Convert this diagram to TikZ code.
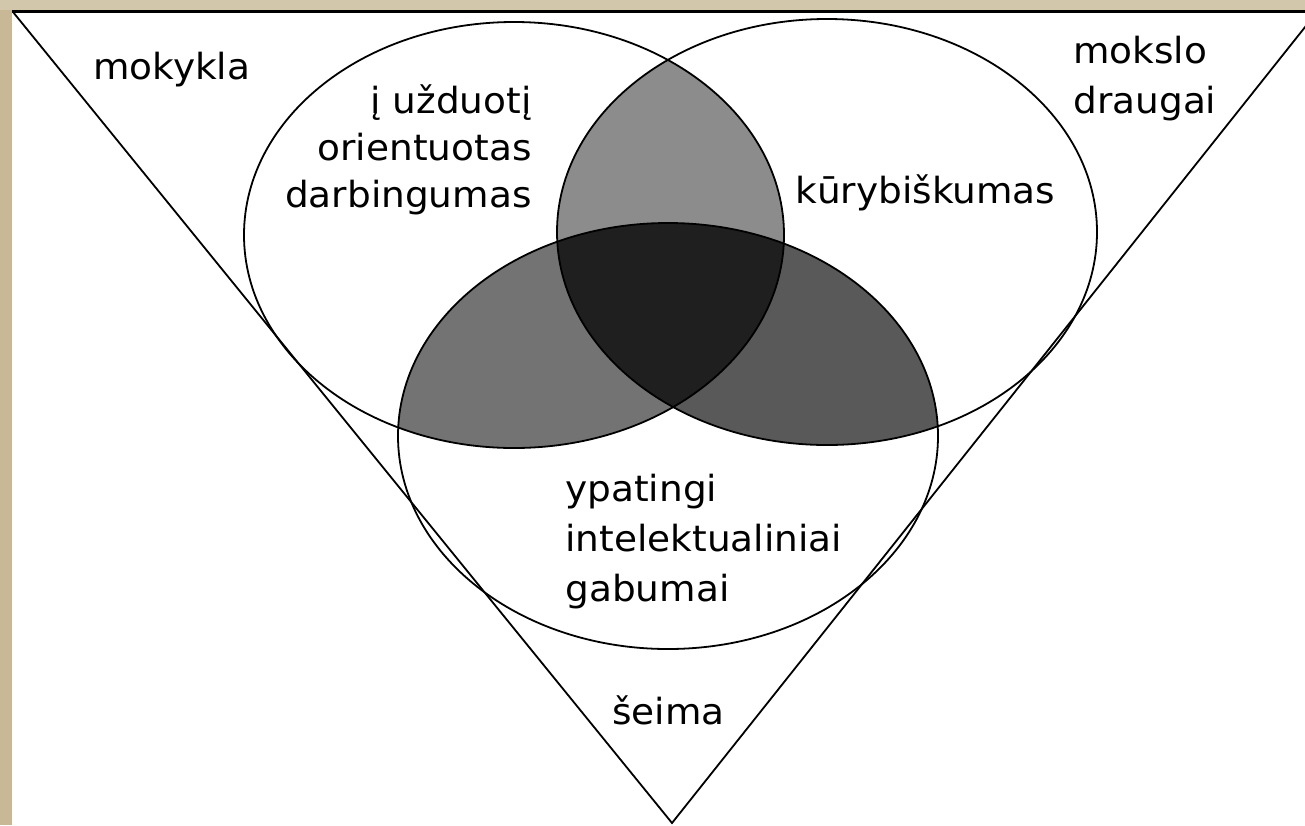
\documentclass[tikz,border=0pt]{standalone}
\usepackage{fontspec}
\setmainfont{DejaVu Sans}[FakeStretch=1.04]
\usetikzlibrary{arrows.meta}
\definecolor{tanleft}{RGB}{200,184,150}
\definecolor{tantop}{RGB}{210,199,171}

\begin{document}
\begin{tikzpicture}[x=0.5pt, y=-0.5pt,
  lbl/.style={inner sep=0pt, font=\fontsize{18}{25}\selectfont},
  rim/.style={line width=0.9pt}]
\useasboundingbox (0,0) rectangle (1305,825);
\fill[white] (0,0) rectangle (1305,825);
\fill[tanleft] (0,0) rectangle (12,825);
\fill[tantop] (0,0) rectangle (1305,10);
% shaded overlaps
\begin{scope}
\clip (514,235) ellipse (270 and 213);
\clip (827,232) ellipse (270 and 213);
\fill[black!45] (0,0) rectangle (1305,825);
\end{scope}
\begin{scope}
\clip (514,235) ellipse (270 and 213);
\clip (668,436) ellipse (270 and 213);
\fill[black!55] (0,0) rectangle (1305,825);
\end{scope}
\begin{scope}
\clip (827,232) ellipse (270 and 213);
\clip (668,436) ellipse (270 and 213);
\fill[black!65] (0,0) rectangle (1305,825);
\end{scope}
\begin{scope}
\clip (514,235) ellipse (270 and 213);
\clip (827,232) ellipse (270 and 213);
\clip (668,436) ellipse (270 and 213);
\fill[black!88] (0,0) rectangle (1305,825);
\end{scope}
% outlines
\draw[rim] (514,235) ellipse (270 and 213);
\draw[rim] (827,232) ellipse (270 and 213);
\draw[rim] (668,436) ellipse (270 and 213);
\begin{scope}
\clip (12,10) rectangle (1305,825);
\draw[rim] (13,12) -- (672,823) -- (1317,12);
\end{scope}
\draw[line width=1.6pt] (12,11.5) -- (1305,11.5);
% labels
\node[lbl, anchor=west] (mokykla) at (93,70) {mokykla};
\node[lbl, anchor=east, align=right, font=\fontsize{18}{23.5}\selectfont] (darb) at (532,150) {į užduotį\\orientuotas\\darbingumas};
\node[lbl, anchor=west, align=left] (draugai) at (1073,79) {mokslo\\draugai};
\node[lbl, anchor=west] (kuryb) at (795,193) {kūrybiškumas};
\node[lbl, anchor=west, align=left] (gabumai) at (565,542) {ypatingi\\intelektualiniai\\gabumai};
\node[lbl, anchor=west] (seima) at (612,710) {šeima};
\end{tikzpicture}
\end{document}
